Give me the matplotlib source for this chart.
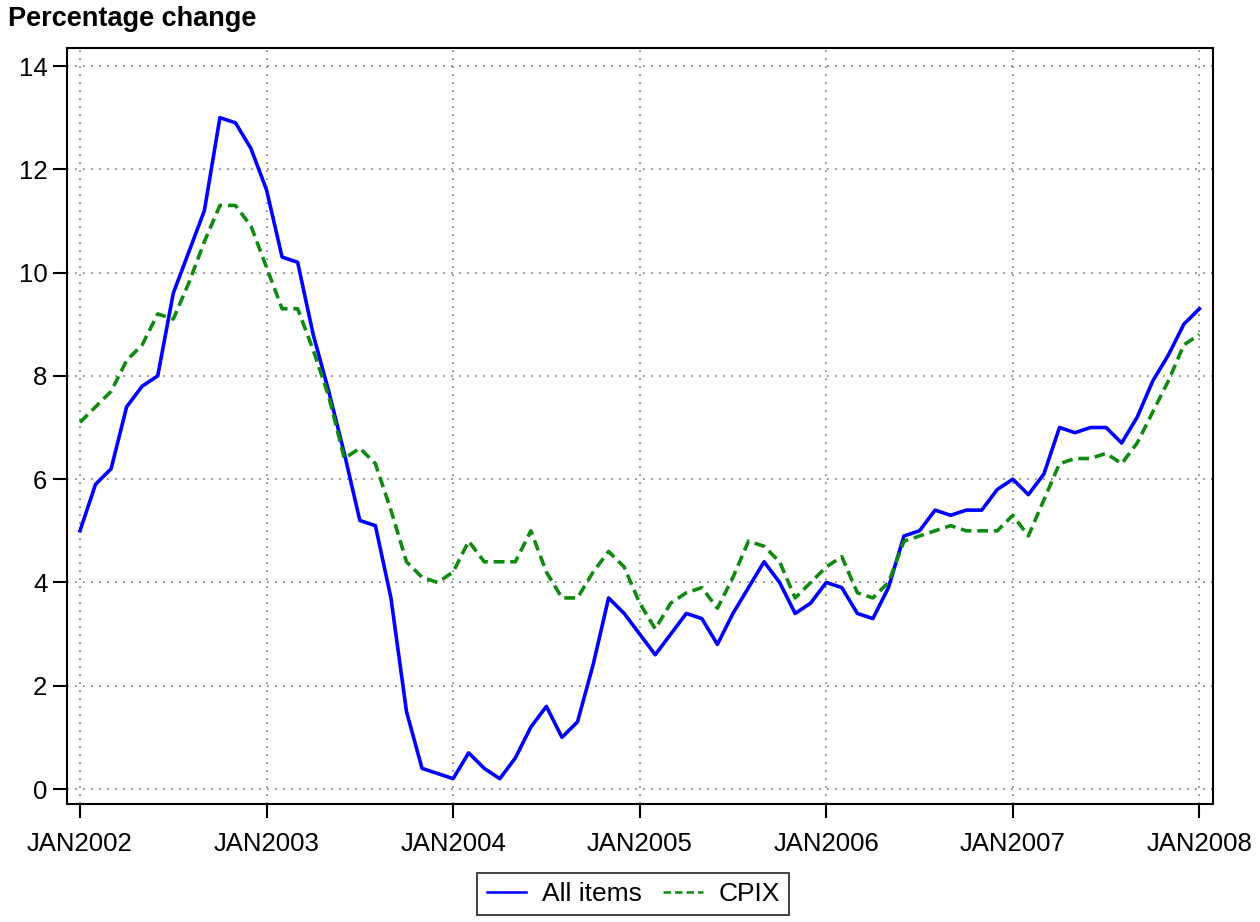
import matplotlib.pyplot as plt

# Monthly values, JAN2002 .. JAN2008
all_items = [5.0, 5.9, 6.2, 7.4, 7.8, 8.0, 9.6, 10.4, 11.2, 13.0, 12.9, 12.4,
             11.6, 10.3, 10.2, 8.8, 7.7, 6.5, 5.2, 5.1, 3.7, 1.5, 0.4, 0.3,
             0.2, 0.7, 0.4, 0.2, 0.6, 1.2, 1.6, 1.0, 1.3, 2.4, 3.7, 3.4,
             3.0, 2.6, 3.0, 3.4, 3.3, 2.8, 3.4, 3.9, 4.4, 4.0, 3.4, 3.6,
             4.0, 3.9, 3.4, 3.3, 3.9, 4.9, 5.0, 5.4, 5.3, 5.4, 5.4, 5.8,
             6.0, 5.7, 6.1, 7.0, 6.9, 7.0, 7.0, 6.7, 7.2, 7.9, 8.4, 9.0,
             9.3]
cpix = [7.1, 7.4, 7.7, 8.3, 8.6, 9.2, 9.1, 9.8, 10.6, 11.3, 11.3, 10.9,
        10.1, 9.3, 9.3, 8.5, 7.6, 6.4, 6.6, 6.3, 5.4, 4.4, 4.1, 4.0,
        4.2, 4.8, 4.4, 4.4, 4.4, 5.0, 4.2, 3.7, 3.7, 4.2, 4.6, 4.3,
        3.6, 3.1, 3.6, 3.8, 3.9, 3.5, 4.1, 4.8, 4.7, 4.4, 3.7, 4.0,
        4.3, 4.5, 3.8, 3.7, 4.0, 4.8, 4.9, 5.0, 5.1, 5.0, 5.0, 5.0,
        5.3, 4.9, 5.6, 6.3, 6.4, 6.4, 6.5, 6.3, 6.7, 7.3, 7.9, 8.6,
        8.8]
year_labels = ["JAN2002", "JAN2003", "JAN2004", "JAN2005",
               "JAN2006", "JAN2007", "JAN2008"]
y_ticks = [0, 2, 4, 6, 8, 10, 12, 14]

months = list(range(len(all_items)))

plt.rcParams['font.family'] = ['Liberation Sans', 'DejaVu Sans']

fig = plt.figure(figsize=(12.6, 9.22), dpi=100)
ax = fig.add_axes([0.053, 0.128, 0.910, 0.820])

ax.plot(months, all_items, color='#0000ff', lw=2.6, label='All items')
ax.plot(months, cpix, color='#108a10', lw=2.6, ls=(0, (3.0, 1.6)), label='CPIX')

ax.set_xlim(-0.85, 72.9)
ax.set_ylim(-0.29, 14.35)
ax.set_xticks([12 * k for k in range(len(year_labels))])
ax.set_xticklabels(year_labels)
ax.set_yticks(y_ticks)

ax.grid(True, color='#7a7a7a', ls=(0, (1, 3.8)), lw=1.2)
ax.tick_params(direction='out', length=10, width=1.5, labelsize=18.5)
ax.tick_params(axis='x', pad=10)
ax.tick_params(axis='y', pad=4)
for s in ax.spines.values():
    s.set_linewidth(1.5)

fig.text(0.006, 0.979, "Percentage change", fontsize=19.5, fontweight='bold',
         va='center', ha='left')

leg = ax.legend(loc='upper center', bbox_to_anchor=(0.494, -0.091), ncol=2,
                fontsize=19, frameon=True, fancybox=False, handlelength=1.5,
                handletextpad=0.6, columnspacing=0.8, borderpad=0.35,
                borderaxespad=0)
leg.get_frame().set_edgecolor('black')
leg.get_frame().set_linewidth(1.3)
for h in leg.get_lines():
    h.set_linewidth(1.8)

fig.savefig('out.png', dpi=100)
